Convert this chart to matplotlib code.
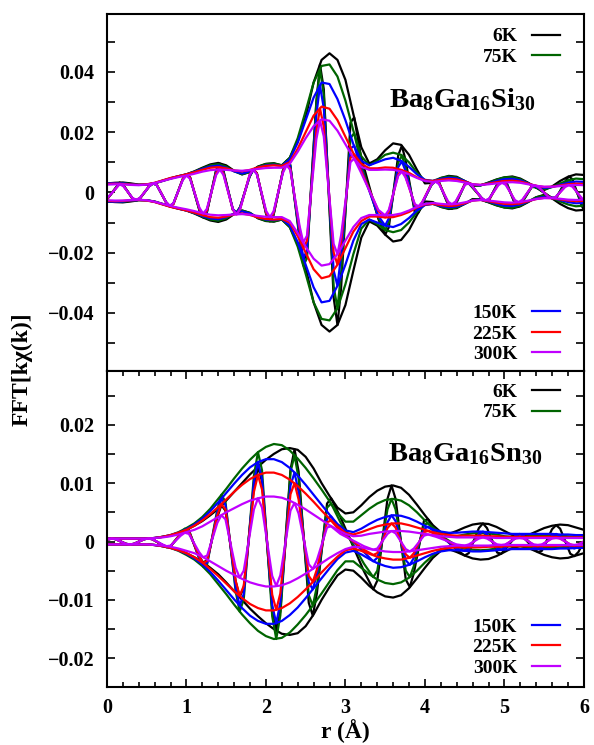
import numpy as np
import matplotlib.pyplot as plt
from matplotlib.ticker import MultipleLocator

plt.rcParams['font.family'] = ['Liberation Serif', 'DejaVu Serif']
plt.rcParams['font.weight'] = 'bold'
plt.rcParams['mathtext.fontset'] = 'custom'
plt.rcParams['mathtext.rm'] = 'Liberation Serif'
plt.rcParams['mathtext.bf'] = 'Liberation Serif:bold'

temps = ['6K', '75K', '150K', '225K', '300K']
colors = ['black', '#006400', '#0000ff', '#ff0000', '#c000ff']

# envelope |FT| sampled every 0.1 A (units 1e-3)
r_env = np.linspace(0, 6, 61)

si_env_6K = [3.0,3.2,3.3,3.0,2.6,2.6,3.0,3.8,4.6,5.3,6.0,7.0,8.2,9.3,9.8,9.0,7.2,6.0,6.8,8.6,9.5,9.7,9.0,11.5,17.0,25.0,36.5,44.0,46.2,44.0,37.4,26.0,15.0,9.6,11.0,14.0,16.3,15.8,12.5,7.5,3.0,3.2,4.8,5.5,5.2,3.8,2.2,2.3,3.3,4.3,5.0,5.3,4.6,3.2,1.6,0.8,2.0,3.8,5.2,6.0,5.8]
si_env_75K = [3.0,3.1,3.1,2.8,2.5,2.6,3.1,3.9,4.7,5.4,6.0,6.9,8.0,9.0,9.4,8.6,7.0,6.0,6.8,8.5,9.4,9.6,9.0,11.5,18.0,27.0,36.5,42.0,42.5,38.5,30.5,20.5,12.0,9.0,10.5,12.5,13.2,12.5,10.0,6.5,4.0,3.8,4.8,5.3,5.0,3.8,2.4,2.4,3.2,4.2,5.0,5.1,4.4,3.0,1.6,1.0,1.8,3.0,4.0,4.6,4.4]
si_env_150K = [3.0,3.1,3.0,2.7,2.5,2.6,3.1,3.9,4.7,5.4,6.0,6.8,7.8,8.6,8.9,8.2,7.0,6.3,7.0,8.3,9.0,9.2,8.8,11.0,16.5,24.0,31.5,36.5,36.0,31.0,24.0,16.0,10.5,9.0,10.0,11.0,11.5,10.5,8.5,6.0,4.2,3.8,4.5,4.9,4.7,3.8,2.6,2.4,3.0,3.8,4.4,4.5,4.0,3.0,2.0,1.5,1.8,2.5,3.2,3.6,3.5]
si_env_225K = [2.8,2.9,2.8,2.6,2.5,2.7,3.2,4.0,4.8,5.4,6.0,6.7,7.5,8.2,8.4,8.0,7.3,7.0,7.5,8.3,8.8,9.0,8.8,10.0,14.5,20.0,25.5,28.5,27.8,24.0,18.5,13.0,9.5,8.0,8.0,8.3,8.2,7.5,6.5,5.0,4.0,3.8,4.2,4.5,4.3,3.6,2.7,2.5,2.9,3.4,3.8,3.9,3.6,2.9,2.2,1.8,1.9,2.3,2.7,2.9,2.8]
si_env_300K = [2.6,2.7,2.7,2.5,2.4,2.6,3.1,3.8,4.5,5.1,5.6,6.2,6.9,7.4,7.6,7.5,7.3,7.2,7.4,7.8,8.1,8.2,8.2,9.5,13.5,18.0,22.0,24.3,23.8,20.5,16.0,11.5,8.5,7.5,7.5,7.6,7.5,7.0,6.0,4.8,3.8,3.5,3.8,4.0,3.8,3.3,2.7,2.5,2.7,3.0,3.3,3.4,3.2,2.7,2.2,1.9,1.9,2.1,2.4,2.5,2.4]

sn_env_6K = [0.5,0.5,0.5,0.5,0.5,0.5,0.6,0.8,1.0,1.4,2.0,2.7,3.5,4.5,5.6,7.0,8.5,10.0,11.5,12.8,14.0,15.0,15.8,16.0,15.7,14.5,12.5,10.0,7.8,5.8,4.8,5.0,6.2,7.6,8.7,9.4,9.6,9.2,8.0,6.3,4.5,2.8,1.6,1.3,1.8,2.4,2.9,3.1,3.0,2.5,1.8,1.1,0.8,1.1,1.7,2.3,2.7,2.9,2.8,2.4,2.0]
sn_env_75K = [0.5,0.5,0.5,0.5,0.5,0.5,0.6,0.8,1.1,1.6,2.3,3.1,4.2,5.6,7.3,9.0,10.8,12.5,14.0,15.3,16.2,16.7,16.5,15.6,14.2,12.6,10.8,8.9,6.9,4.9,3.4,3.4,4.5,5.6,6.5,7.1,7.3,7.0,6.2,5.0,3.6,2.4,1.4,0.9,0.9,1.2,1.4,1.5,1.4,1.2,0.9,0.8,0.8,0.9,1.0,1.1,1.1,1.0,0.9,0.8,0.8]
sn_env_150K = [0.5,0.5,0.5,0.5,0.5,0.5,0.6,0.8,1.1,1.5,2.1,2.9,3.9,5.2,6.7,8.3,9.9,11.4,12.7,13.6,14.1,14.1,13.6,12.6,11.3,9.7,8.0,6.3,4.6,3.0,1.9,1.6,2.2,3.0,3.7,4.2,4.5,4.4,4.0,3.4,2.7,2.1,1.7,1.5,1.5,1.6,1.7,1.7,1.6,1.5,1.4,1.3,1.3,1.3,1.3,1.3,1.3,1.2,1.2,1.1,1.1]
sn_env_225K = [0.5,0.5,0.5,0.5,0.5,0.5,0.6,0.8,1.1,1.5,2.0,2.7,3.6,4.7,5.9,7.2,8.5,9.7,10.7,11.4,11.8,11.8,11.4,10.6,9.5,8.2,6.8,5.3,3.9,2.6,1.5,1.2,1.6,2.1,2.6,2.9,3.1,3.1,2.8,2.4,2.0,1.6,1.3,1.1,1.0,1.0,1.0,1.0,0.9,0.9,0.8,0.8,0.8,0.8,0.8,0.8,0.8,0.7,0.7,0.7,0.7]
sn_env_300K = [0.5,0.5,0.5,0.5,0.5,0.5,0.6,0.7,0.9,1.2,1.6,2.0,2.6,3.4,4.2,5.0,5.7,6.4,7.0,7.4,7.7,7.7,7.5,7.0,6.3,5.5,4.6,3.7,2.8,2.0,1.3,0.9,1.0,1.3,1.5,1.7,1.8,1.8,1.7,1.5,1.3,1.1,0.9,0.8,0.7,0.7,0.7,0.7,0.7,0.6,0.6,0.6,0.6,0.6,0.6,0.6,0.6,0.6,0.6,0.6,0.6]

# real part, read at its extrema and at points on each flank (units 1e-3)
si_re_r = [0.00, 0.16,0.206,0.324, 0.37,0.416,0.534, 0.58,0.626,0.744, 0.79,0.836,0.954,
           1.00,1.046,1.164, 1.21,1.256,1.374, 1.42,1.466,1.584, 1.63,1.676,1.794,
           1.84,1.886,2.004, 2.05,2.096,2.214, 2.26,2.306,2.424, 2.47,2.516,2.634,
           2.68,2.728,2.852, 2.90,2.946,3.064, 3.11,3.196,3.414, 3.50,3.546,3.664,
           3.71,3.756,3.874, 3.92,3.966,4.084, 4.13,4.176,4.294, 4.34,4.386,4.504,
           4.55,4.596,4.714, 4.76,4.806,4.924, 4.97,5.016,5.134, 5.18,5.226,5.344,
           5.39,5.436,5.554, 5.60,5.646,5.764, 5.81,5.856,5.974, 6.00]
si_re_6K = [-2.3, 3.3,2.5,-2.2, -2.7,-2.0,2.1, 2.9,2.5,-3.2, -4.5,-3.7,4.4, 6.0,5.0,-6.0,
            -8.3,-6.8,7.5, 9.6,7.2,-5.8, -6.8,-4.9,5.2, 7.5,6.4,-7.3, -9.6,-7.5,7.2,
            10.5,9.1,-14.6, -22.6,-20.6,30.0, 42.5,34.3,-34.9, -44.0,-31.6,23.2,
            24.9,11.9,-8.8, -14.0,-11.6,12.3, 15.5,10.8,-6.8, -6.6,-3.5,2.5, 3.7,3.4,-4.2,
            -5.4,-4.0,2.8, 3.0,1.7,-1.8, -2.9,-2.6,3.5, 4.8,3.9,-3.9, -4.7,-3.2,1.9,
            1.8,1.0,-1.1, -2.0,-2.2,3.6, 5.3,4.4,-4.5, -5.8]
si_re_75K = [-2.3, 3.1,2.4,-2.1, -2.6,-1.9,2.1, 3.0,2.5,-3.3, -4.6,-3.8,4.4, 6.0,4.9,-5.9,
             -8.1,-6.6,7.2, 9.2,6.9,-5.6, -6.7,-4.8,5.2, 7.5,6.4,-7.2, -9.5,-7.4,7.2,
             10.5,9.2,-15.6, -24.3,-21.9,29.6, 41.0,32.4,-31.2, -38.5,-26.8,18.0,
             19.7,9.5,-8.3, -12.5,-9.9,9.8, 12.3,8.5,-5.7, -6.0,-3.7,2.9, 4.1,3.5,-4.1,
             -5.2,-3.9,2.8, 3.1,1.8,-1.9, -2.9,-2.5,3.4, 4.8,3.9,-3.7, -4.5,-3.1,1.8,
             1.7,1.1,-1.1, -1.8,-1.8,2.8, 4.1,3.3,-3.5, -4.4]
si_re_150K = [-2.3, 3.0,2.3,-2.0, -2.6,-1.9,2.1, 3.0,2.5,-3.3, -4.6,-3.8,4.4, 6.0,4.9,-5.7,
              -7.9,-6.4,6.8, 8.8,6.5,-5.5, -6.8,-5.0,5.4, 7.5,6.2,-6.9, -9.1,-7.1,7.0,
              10.1,8.7,-14.1, -21.8,-19.4,25.6, 35.5,28.0,-25.9, -31.0,-20.9,14.6,
              15.5,8.2,-7.8, -11.0,-8.6,8.4, 10.3,7.2,-5.1, -5.6,-3.7,3.0, 4.0,3.3,-3.8,
              -4.8,-3.6,2.9, 3.2,2.0,-1.9, -2.8,-2.3,3.0, 4.2,3.4,-3.3, -4.1,-2.8,2.0,
              2.1,1.4,-1.3, -1.8,-1.6,2.3, 3.2,2.6,-2.7, -3.5]
si_re_225K = [-2.2, 2.9,2.2,-2.0, -2.5,-1.9,2.2, 3.1,2.6,-3.3, -4.7,-3.9,4.4, 6.0,4.9,-5.5,
              -7.6,-6.1,6.4, 8.3,6.2,-5.7, -7.2,-5.5,5.8, 7.8,6.3,-6.8, -8.9,-6.9,6.9,
              9.5,7.9,-12.2, -18.4,-16.1,20.4, 27.9,21.8,-19.9, -24.0,-16.6,11.6,
              12.6,7.4,-6.2, -8.3,-6.4,6.0, 7.4,5.3,-4.2, -4.8,-3.3,3.0, 3.9,3.2,-3.5,
              -4.4,-3.3,2.8, 3.2,2.1,-2.0, -2.7,-2.3,2.7, 3.7,2.9,-2.9, -3.7,-2.6,2.0,
              2.3,1.6,-1.4, -1.9,-1.6,2.0, 2.7,2.2,-2.2, -2.8]
si_re_300K = [-2.0, 2.7,2.1,-1.9, -2.4,-1.8,2.1, 3.0,2.5,-3.2, -4.4,-3.6,4.1, 5.6,4.5,-5.1,
              -7.0,-5.5,5.8, 7.6,5.8,-5.6, -7.3,-5.5,5.7, 7.6,6.0,-6.2, -8.2,-6.3,6.5,
              9.0,7.5,-11.2, -16.6,-14.4,17.6, 23.9,18.6,-17.1, -20.5,-14.2,10.1,
              11.2,6.6,-5.8, -7.6,-5.8,5.5, 6.9,5.0,-3.9, -4.6,-3.2,2.7, 3.6,2.8,-3.1,
              -3.9,-3.0,2.5, 3.0,2.1,-1.9, -2.6,-2.1,2.4, 3.2,2.5,-2.6, -3.2,-2.4,1.9,
              2.3,1.6,-1.5, -1.9,-1.5,1.8, 2.4,1.9,-1.9, -2.4]

sn_re_r = [0.00, 0.06,0.111,0.239, 0.29,0.341,0.469, 0.52,0.571,0.699, 0.75,0.801,0.929,
           0.98,1.031,1.159, 1.21,1.261,1.389, 1.44,1.491,1.619, 1.67,1.721,1.849,
           1.90,1.951,2.079, 2.13,2.181,2.309, 2.36,2.411,2.539, 2.59,2.641,2.769,
           2.82,2.937,3.233, 3.35,3.401,3.529, 3.58,3.631,3.759, 3.81,3.861,3.989,
           4.04,4.141,4.399, 4.50,4.551,4.679, 4.73,4.781,4.909, 4.96,5.011,5.139,
           5.19,5.241,5.369, 5.42,5.471,5.599, 5.65,5.701,5.829, 5.88,5.931, 6.00]
sn_re_6K = [0.3, 0.5,0.4,-0.4, -0.5,-0.4,0.4, 0.5,0.4,-0.6, -0.9,-0.8,1.2, 1.9,1.7,-2.5,
            -3.6,-3.2,4.2, 6.2,5.3,-6.8, -9.5,-7.9,9.3, 12.8,10.3,-11.4, -15.2,-12.0,12.3,
            15.8,12.0,-10.5, -12.7,-8.9,6.5, 7.4,4.2,-5.1, -8.2,-6.7,7.3, 9.6,7.3,-6.5,
            -7.8,-5.4,3.6, 3.8,1.8,-1.4, -2.4,-2.0,2.3, 3.1,2.3,-1.9, -2.1,-1.3,0.8,
            0.8,0.7,-1.2, -1.8,-1.6,2.1, 2.8,2.2,-2.1, -2.5,-1.8, 0.0]
sn_re_75K = [0.3, 0.5,0.4,-0.4, -0.5,-0.4,0.4, 0.5,0.4,-0.6, -1.0,-0.8,1.4, 2.2,2.0,-2.9,
             -4.3,-3.9,5.5, 8.0,6.8,-8.5, -12.0,-9.9,11.3, 15.3,12.2,-12.8, -16.7,-12.7,11.9,
             14.8,10.8,-9.2, -11.0,-7.7,5.8, 6.5,3.3,-3.8, -6.1,-5.0,5.5, 7.3,5.5,-5.0,
             -6.1,-4.2,2.9, 3.1,1.5,-0.7, -1.2,-1.0,1.2, 1.5,1.1,-0.9, -1.0,-0.7,0.6,
             0.8,0.7,-0.8, -1.0,-0.8,0.8, 1.1,0.8,-0.7, -0.9,-0.6, 0.0]
sn_re_150K = [0.3, 0.5,0.4,-0.4, -0.5,-0.4,0.4, 0.5,0.4,-0.6, -0.9,-0.8,1.3, 2.0,1.8,-2.7,
              -4.0,-3.6,5.0, 7.3,6.3,-7.9, -11.0,-9.0,10.2, 13.6,10.7,-10.9, -14.0,-10.5,9.6,
              11.8,8.5,-7.0, -8.2,-5.6,3.9, 4.3,2.0,-1.8, -3.4,-2.8,3.3, 4.5,3.5,-3.2,
              -4.0,-2.8,2.2, 2.5,1.5,-1.2, -1.6,-1.3,1.3, 1.7,1.2,-1.2, -1.4,-1.1,1.0,
              1.3,1.0,-1.0, -1.3,-1.0,1.0, 1.3,0.9,-0.9, -1.2,-0.9, 0.0]
sn_re_225K = [0.3, 0.5,0.4,-0.4, -0.5,-0.4,0.4, 0.5,0.4,-0.6, -0.9,-0.8,1.3, 1.9,1.7,-2.5,
              -3.7,-3.3,4.5, 6.4,5.5,-6.7, -9.3,-7.6,8.5, 11.4,8.9,-9.1, -11.7,-8.9,8.1,
              10.0,7.2,-5.9, -6.9,-4.8,3.3, 3.6,1.7,-1.4, -2.3,-2.0,2.3, 3.1,2.4,-2.2,
              -2.8,-2.0,1.6, 1.8,1.2,-0.8, -1.0,-0.8,0.8, 1.0,0.7,-0.7, -0.9,-0.6,0.6,
              0.8,0.6,-0.6, -0.8,-0.6,0.6, 0.8,0.5,-0.5, -0.7,-0.5, 0.0]
sn_re_300K = [0.3, 0.5,0.4,-0.4, -0.5,-0.4,0.4, 0.5,0.4,-0.5, -0.8,-0.7,1.0, 1.5,1.3,-1.8,
              -2.7,-2.4,3.2, 4.5,3.8,-4.5, -6.2,-5.0,5.5, 7.4,5.8,-5.9, -7.6,-5.8,5.3,
              6.6,4.8,-3.9, -4.7,-3.2,2.4, 2.6,1.3,-0.8, -1.4,-1.2,1.3, 1.8,1.4,-1.3,
              -1.7,-1.2,1.0, 1.2,0.8,-0.5, -0.7,-0.5,0.5, 0.7,0.5,-0.5, -0.6,-0.5,0.5,
              0.6,0.5,-0.5, -0.6,-0.5,0.5, 0.6,0.5,-0.5, -0.6,-0.5, 0.0]

si_env = [si_env_6K, si_env_75K, si_env_150K, si_env_225K, si_env_300K]
si_re = [si_re_6K, si_re_75K, si_re_150K, si_re_225K, si_re_300K]
sn_env = [sn_env_6K, sn_env_75K, sn_env_150K, sn_env_225K, sn_env_300K]
sn_re = [sn_re_6K, sn_re_75K, sn_re_150K, sn_re_225K, sn_re_300K]

fig = plt.figure(figsize=(5.94, 7.45), dpi=100)
ax1 = fig.add_axes([0.180, 0.502, 0.803, 0.479])
ax2 = fig.add_axes([0.180, 0.078, 0.803, 0.424])


def draw_panel(ax, envs, re_r, res):
    handles = []
    for env, re, c, t in zip(envs, res, colors, temps):
        e = np.array(env) * 1e-3
        h, = ax.plot(r_env, e, color=c, lw=1.6, label=t)
        ax.plot(r_env, -e, color=c, lw=1.6)
        ax.plot(re_r, np.array(re) * 1e-3, color=c, lw=1.6)
        handles.append(h)
    return handles


def add_legends(ax, handles, y_top, y_bot):
    kw = dict(frameon=False, markerfirst=False, fontsize=14, handlelength=1.45,
              handletextpad=0.75, labelspacing=0.15, borderpad=0, borderaxespad=0)
    leg1 = ax.legend(handles[:2], temps[:2], loc='upper right',
                     bbox_to_anchor=(0.95, y_top), **kw)
    ax.add_artist(leg1)
    ax.legend(handles[2:], temps[2:], loc='lower right',
              bbox_to_anchor=(0.95, y_bot), **kw)


h1 = draw_panel(ax1, si_env, si_re_r, si_re)
h2 = draw_panel(ax2, sn_env, sn_re_r, sn_re)
add_legends(ax1, h1, 0.962, 0.022)
add_legends(ax2, h2, 0.961, 0.032)

ax1.set_xlim(0, 6)
ax1.set_ylim(-0.0593, 0.0592)
ax2.set_xlim(0, 6)
ax2.set_ylim(-0.0249, 0.0292)

ax1.yaxis.set_minor_locator(MultipleLocator(0.01))
ax2.yaxis.set_minor_locator(MultipleLocator(0.005))
ax2.xaxis.set_major_locator(MultipleLocator(1))
ax2.xaxis.set_minor_locator(MultipleLocator(0.2))

ax1.set_yticks([-0.04, -0.02, 0, 0.02, 0.04])
ax1.set_yticklabels(['\u22120.04', '\u22120.02', '0', '0.02', '0.04'])
ax2.set_yticks([-0.02, -0.01, 0, 0.01, 0.02])
ax2.set_yticklabels(['\u22120.02', '\u22120.01', '0', '0.01', '0.02'])

for ax in (ax1, ax2):
    for s in ax.spines.values():
        s.set_linewidth(1.5)
    ax.tick_params(which='both', direction='in', left=True, right=True,
                   width=1.2, labelsize=14.5)
    ax.tick_params(which='both', length=6)
    ax.tick_params(axis='y', pad=9)

ax1.tick_params(axis='x', which='both', bottom=False, top=False, labelbottom=False)
ax2.tick_params(axis='x', which='both', bottom=True, top=True)
ax2.tick_params(axis='x', which='major', length=6, pad=8)
ax2.tick_params(axis='x', which='minor', length=3.5)

ax1.text(4.47, 0.0282, r'$\mathbf{Ba_8Ga_{16}Si_{30}}$', fontsize=20.5,
         ha='center', va='baseline')
ax2.text(4.51, 0.0138, r'$\mathbf{Ba_8Ga_{16}Sn_{30}}$', fontsize=20.5,
         ha='center', va='baseline')

ax2.set_xlabel('r (\u00c5)', fontsize=17, fontweight='bold', labelpad=1)
fig.text(0.037, 0.505, 'FFT[k\u03c7(k)]', fontsize=17, fontweight='bold',
         rotation=90, ha='center', va='center')

fig.savefig('out.png', dpi=100)
